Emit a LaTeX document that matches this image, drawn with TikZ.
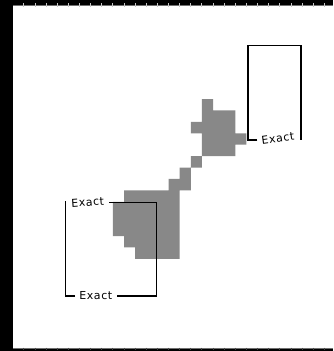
\documentclass[tikz,border=0pt]{standalone}
\usepackage{fontspec}
\newfontfamily\lblfont[LetterSpace=5]{DejaVu Sans}
\definecolor{cellgray}{HTML}{888888}
\definecolor{rulegray}{HTML}{707070}
\definecolor{tickgray}{HTML}{C8C8C8}
\begin{document}
\begin{tikzpicture}[x=1pt,y=-1pt,
  bracket/.style={draw=black,line width=1.2pt},
  lbl/.style={font=\lblfont\fontsize{11}{13}\selectfont,inner sep=0pt,text=black},
  rulerline/.style={draw=rulegray,line width=1.1pt},
  tickmark/.style={draw=tickgray,line width=0.9pt}]
\useasboundingbox (0,0) rectangle (333,351);
\fill[white] (0,0) rectangle (333,351);
% frame bands
\fill[black] (0,0) rectangle (333,4.6);
\fill[black] (0,349.4) rectangle (333,351);
\draw[rulerline] (0,5.4) -- (333,5.4);
\draw[rulerline] (0,348.6) -- (333,348.6);
\foreach \k in {0,...,28} {
  \draw[tickmark] ({12.7+11.13*\k},3.2) -- ({12.7+11.13*\k},6.6);
  \draw[tickmark,draw=rulegray!60!black] ({12.7+11.13*\k},347.6) -- ({12.7+11.13*\k},350.4);
}
\fill[black] (0,0) rectangle (12.5,351);
% gray cells
\fill[cellgray]
  \foreach \c/\r in {17/8, 17/9,18/9,19/9, 16/10,17/10,18/10,19/10,
    17/11,18/11,19/11,20/11, 17/12,18/12,19/12, 16/13, 15/14,
    14/15,15/15, 10/16,11/16,12/16,13/16,14/16,
    9/17,10/17,11/17,12/17,13/17,14/17,
    9/18,10/18,11/18,12/18,13/18,14/18,
    9/19,10/19,11/19,12/19,13/19,14/19,
    10/20,11/20,12/20,13/20,14/20,
    11/21,12/21,13/21,14/21}
  { ({12.7+11.13*\c},{7.64+11.42*\r}) rectangle ++(11.13,11.42) };
% upper right bracket
\node[lbl,rotate=8] (ua) at (277.8,138.6) {Exact};
\coordinate (uls) at (257.3,140);
\coordinate (ubl) at (248,140);
\coordinate (utl) at (248,45.6);
\coordinate (utr) at (301,45.6);
\coordinate (ubr) at (301,140.3);
\draw[bracket] (uls) -- (ubl) -- (utl) -- (utr) -- (ubr);
% lower left bracket
\node[lbl,rotate=4] (la) at (87.6,202.4) {Exact};
\node[lbl] (lb) at (95.8,295.8) {Exact};
\coordinate (lts) at (109.4,202.3);
\coordinate (ltr) at (156.7,202.3);
\coordinate (lbr) at (156.7,296);
\coordinate (lbs) at (116.6,296);
\coordinate (lbls) at (75,296);
\coordinate (lbl) at (65.7,296);
\coordinate (ltl) at (65.7,201.3);
\draw[bracket] (lts) -- (ltr) -- (lbr) -- (lbs);
\draw[bracket] (lbls) -- (lbl) -- (ltl);
\end{tikzpicture}
\end{document}
